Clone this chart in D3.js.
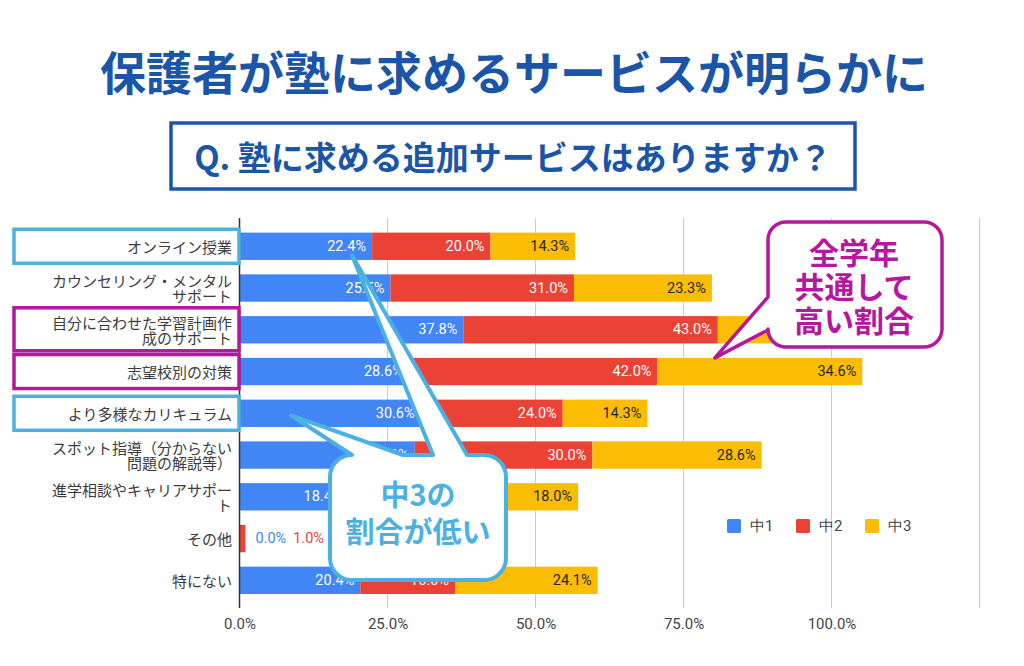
<!DOCTYPE html>
<html>
<head>
<meta charset="utf-8">
<script src="https://cdn.jsdelivr.net/npm/d3@7"></script>
<style>
  html, body { margin: 0; padding: 0; background: #ffffff; }
  svg { display: block; }
</style>
</head>
<body>
<svg id="chart" width="1024" height="666"></svg>
<script>
// ---------- data ----------
const title = "保護者が塾に求めるサービスが明らかに";
const question = "Q. 塾に求める追加サービスはありますか？";
const categories = [
  "オンライン授業",
  "カウンセリング・メンタル\nサポート",
  "自分に合わせた学習計画作\n成のサポート",
  "志望校別の対策",
  "より多様なカリキュラム",
  "スポット指導（分からない\n問題の解説等）",
  "進学相談やキャリアサポー\nト",
  "その他",
  "特にない"
];
const seriesNames = ["中1", "中2", "中3"];
const chu1 = [22.4, 25.5, 37.8, 28.6, 30.6, 29.6, 18.4, 0.0, 20.4];
const chu2 = [20.0, 31.0, 43.0, 42.0, 24.0, 30.0, 20.8, 1.0, 16.0];
const chu3 = [14.3, 23.3, 30.0, 34.6, 14.3, 28.6, 18.0, 0.0, 24.1];
const gridValues = [0, 25, 50, 75, 100, 125];
const tickLabels = ["0.0%", "25.0%", "50.0%", "75.0%", "100.0%"];
const calloutBlueText = ["中3の", "割合が低い"];
const calloutMagentaText = ["全学年", "共通して", "高い割合"];

// ---------- styles ----------
const colors = ["#4285f4", "#ea4335", "#fbbc04"];
const labelColors = ["#ffffff", "#ffffff", "#262626"];
const titleBlue = "#1b55a8";
const skyBlue = "#4bb1e3";
const magenta = "#b5179e";
const jp = "'Noto Sans CJK JP', 'Noto Sans', sans-serif";
const num = "Roboto, 'Noto Sans', sans-serif";

const svg = d3.select("#chart");

// title
svg.append("text")
  .attr("x", 514).attr("y", 70)
  .attr("text-anchor", "middle").attr("dominant-baseline", "central")
  .attr("font-family", jp).attr("font-weight", 700).attr("font-size", 46)
  .attr("fill", titleBlue).text(title);

// question box
svg.append("rect")
  .attr("x", 171).attr("y", 123).attr("width", 684).attr("height", 66)
  .attr("fill", "#fff").attr("stroke", titleBlue).attr("stroke-width", 3.5);
svg.append("text")
  .attr("x", 513).attr("y", 156)
  .attr("text-anchor", "middle").attr("dominant-baseline", "central")
  .attr("font-family", jp).attr("font-weight", 700).attr("font-size", 33)
  .attr("fill", titleBlue).text(question);

// ---------- scales ----------
const plotTop = 218, plotBottom = 608;
const x = d3.scaleLinear().domain([0, 125]).range([239.5, 979.5]);
const y = d3.scaleBand().domain(categories).range([225.4, 601.2])
  .paddingInner(0.345).paddingOuter(0.1725);

// gridlines
svg.append("g").selectAll("line").data(gridValues.slice(1)).join("line")
  .attr("x1", d => x(d)).attr("x2", d => x(d))
  .attr("y1", plotTop).attr("y2", plotBottom)
  .attr("stroke", "#cccccc").attr("stroke-width", 1);

// x axis tick labels
const xAxis = d3.axisBottom(x).tickValues(gridValues.slice(0, tickLabels.length))
  .tickFormat((d, i) => tickLabels[i]).tickSize(0).tickPadding(0);
const gx = svg.append("g").attr("transform", `translate(0, ${plotBottom + 10})`).call(xAxis);
gx.select(".domain").remove();
gx.attr("font-size", null).attr("font-family", null);
gx.selectAll("text").attr("font-family", num).attr("font-size", 15).attr("fill", "#444")
  .attr("dy", "0.71em");

// ---------- stacked bars ----------
const rows = categories.map((c, i) => ({ cat: c, vals: [chu1[i], chu2[i], chu3[i]] }));
const barsG = svg.append("g");
rows.forEach((r, i) => {
  let acc = 0;
  const total = r.vals.reduce((a, b) => a + b, 0);
  let outsideX = x(total) + 10;
  r.vals.forEach((v, s) => {
    const x0 = x(acc), x1 = x(acc + v);
    if (v > 0) {
      barsG.append("rect")
        .attr("x", x0).attr("y", y(r.cat))
        .attr("width", x1 - x0).attr("height", y.bandwidth())
        .attr("fill", colors[s]);
    }
    const label = v.toFixed(1) + "%";
    const t = barsG.append("text")
      .attr("y", y(r.cat) + y.bandwidth() / 2)
      .attr("dominant-baseline", "central")
      .attr("font-family", num).attr("font-size", 14.5)
      .text(label);
    const w = t.node().getComputedTextLength();
    if (x1 - x0 >= w + 10) {
      t.attr("x", x1 - 6).attr("text-anchor", "end").attr("fill", labelColors[s]);
    } else {
      t.attr("x", outsideX).attr("text-anchor", "start").attr("fill", colors[s]);
      outsideX += w + 7;
    }
    acc += v;
  });
});

// zero axis line
svg.append("line")
  .attr("x1", x(0)).attr("x2", x(0)).attr("y1", plotTop).attr("y2", plotBottom)
  .attr("stroke", "#333").attr("stroke-width", 1.5);

// ---------- category label highlight boxes ----------
const highlight = { 0: skyBlue, 2: magenta, 3: magenta, 4: skyBlue };
Object.keys(highlight).forEach(k => {
  const c = categories[+k];
  const isTwo = c.includes("\n");
  const cy = y(c) + y.bandwidth() / 2;
  const h = isTwo ? 43 : 34;
  svg.append("rect")
    .attr("x", 14).attr("y", cy - h / 2 + (isTwo ? -0.5 : 0))
    .attr("width", 225).attr("height", h)
    .attr("fill", "#fff").attr("stroke", highlight[k]).attr("stroke-width", 3.5);
});

// category labels
const lab = svg.append("g");
categories.forEach(c => {
  const lines = c.split("\n");
  const cy = y(c) + y.bandwidth() / 2;
  const lh = 14.5;
  lines.forEach((ln, j) => {
    lab.append("text")
      .attr("x", 232).attr("y", cy + (j - (lines.length - 1) / 2) * lh)
      .attr("text-anchor", "end").attr("dominant-baseline", "central")
      .attr("font-family", jp).attr("font-size", 15).attr("fill", "#3c3c3c")
      .text(ln);
  });
});

// ---------- legend ----------
const legendX = [727, 796, 865];
const lg = svg.append("g");
seriesNames.forEach((n, i) => {
  lg.append("rect").attr("x", legendX[i]).attr("y", 519).attr("width", 14).attr("height", 14)
    .attr("rx", 1.5).attr("fill", colors[i]);
  lg.append("text").attr("x", legendX[i] + 23).attr("y", 526)
    .attr("dominant-baseline", "central")
    .attr("font-family", num).attr("font-size", 15).attr("fill", "#444").text(n);
});

// ---------- callouts ----------
function cy(i) { return y(categories[i]) + y.bandwidth() / 2; }

// blue callout: box with two tails
{
  const L = 330, R = 506, T = 455, B = 580, r = 22;
  const tipA = [x(19.0), cy(0) + 9];      // points at row 0
  const tipB = [x(8.7), cy(4) + 2];       // points at row 4
  const p = d3.path();
  p.moveTo(L + r, T);
  p.lineTo(tipB[0], tipB[1]);
  p.lineTo(403, T);
  p.lineTo(433, T);
  p.lineTo(tipA[0], tipA[1]);
  p.lineTo(467, T);
  p.lineTo(R - r, T);
  p.arcTo(R, T, R, T + r, r);
  p.lineTo(R, B - r);
  p.arcTo(R, B, R - r, B, r);
  p.lineTo(L + r, B);
  p.arcTo(L, B, L, B - r, r);
  p.lineTo(L, T + r);
  p.arcTo(L, T, L + r, T, r);
  p.closePath();
  svg.append("path").attr("d", p.toString())
    .attr("fill", "#fff").attr("stroke", skyBlue).attr("stroke-width", 4)
    .attr("stroke-linejoin", "round");
  calloutBlueText.forEach((t, j) => {
    svg.append("text").attr("x", 418).attr("y", 493 + j * 37)
      .attr("text-anchor", "middle").attr("dominant-baseline", "central")
      .attr("font-family", jp).attr("font-weight", 700).attr("font-size", 29)
      .attr("fill", skyBlue).text(t);
  });
}

// magenta callout
{
  const L = 768, R = 942, T = 222, B = 347, r = 18;
  const tip = [x(80.3), y(categories[3])];
  const p = d3.path();
  p.moveTo(L + r, T);
  p.lineTo(R - r, T);
  p.arcTo(R, T, R, T + r, r);
  p.lineTo(R, B - r);
  p.arcTo(R, B, R - r, B, r);
  p.lineTo(L + r, B);
  p.arcTo(L, B, L, B - r, r);
  p.lineTo(L, B - r + 1);
  p.lineTo(tip[0], tip[1]);
  p.lineTo(L, 297);
  p.lineTo(L, T + r);
  p.arcTo(L, T, L + r, T, r);
  p.closePath();
  svg.append("path").attr("d", p.toString())
    .attr("fill", "#fff").attr("stroke", magenta).attr("stroke-width", 3.5)
    .attr("stroke-linejoin", "round");
  calloutMagentaText.forEach((t, j) => {
    svg.append("text").attr("x", 854).attr("y", 251 + j * 34)
      .attr("text-anchor", "middle").attr("dominant-baseline", "central")
      .attr("font-family", jp).attr("font-weight", 700).attr("font-size", 30)
      .attr("fill", magenta).text(t);
  });
}
</script>
</body>
</html>
